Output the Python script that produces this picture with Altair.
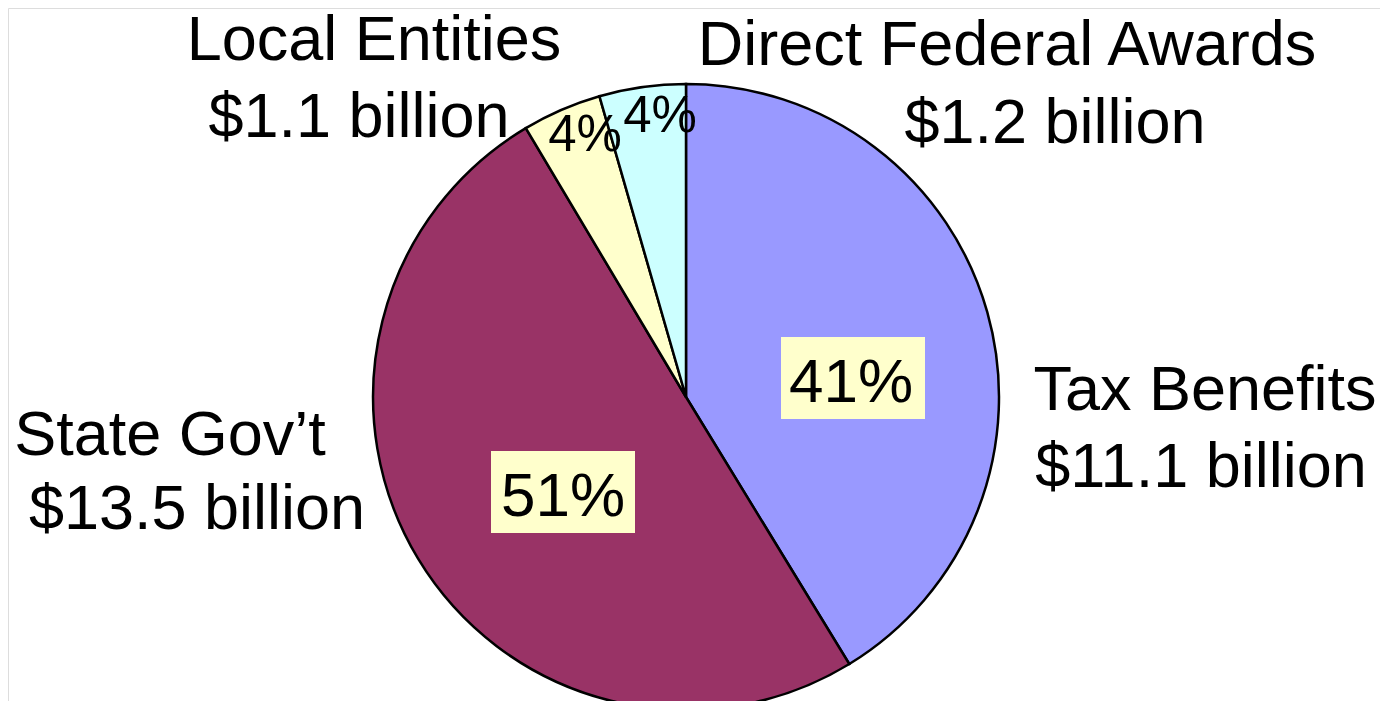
import altair as alt
import pandas as pd

# ---- data ----
categories = ["Tax Benefits", "State Gov\u2019t", "Local Entities", "Direct Federal Awards"]
amounts = [11.1, 13.5, 1.1, 1.2]
amount_labels = ["$11.1 billion", "$13.5 billion", "$1.1 billion", "$1.2 billion"]
pct_labels = ["41%", "51%", "4%", "4%"]
colors = ["#9999FF", "#993366", "#FFFFCC", "#CCFFFF"]

W, H = 1372, 693
CX, CY, R = 678, 389, 313
FONT = "Liberation Sans"

df = pd.DataFrame({"category": categories, "amount": amounts, "idx": list(range(len(categories)))})

pie = alt.Chart(df).mark_arc(stroke="black", strokeWidth=2.5, outerRadius=R).encode(
    theta=alt.Theta("amount:Q", stack=True),
    order=alt.Order("idx:Q"),
    color=alt.Color("category:N", scale=alt.Scale(domain=categories, range=colors), legend=None),
    x=alt.value(CX),
    y=alt.value(CY),
)

# annotation layout (text lines placed like the original)
name_pos = {
    "Tax Benefits": (1197, 402),
    "State Gov\u2019t": (162, 447),
    "Local Entities": (366, 52),
    "Direct Federal Awards": (999, 57),
}
amount_pos = {
    "$11.1 billion": (1193, 479),
    "$13.5 billion": (189, 521),
    "$1.1 billion": (351, 129),
    "$1.2 billion": (1047, 135),
}
pct_pos = [(843, 394), (555, 508), (577, 143), (652, 124)]
pct_size = [62, 62, 51, 51]
boxes = [(773, 917, 329, 411), (483, 627, 443, 525)]

base = alt.Chart(pd.DataFrame({"a": [0]}))
layers = [pie]

for (x1, x2, y1, y2) in boxes:
    layers.append(base.mark_rect(color="#FFFFCC").encode(
        x=alt.value(x1), x2=alt.value(x2), y=alt.value(y1), y2=alt.value(y2)))

for i, t in enumerate(pct_labels):
    px, py = pct_pos[i]
    layers.append(base.mark_text(text=t, font=FONT, fontSize=pct_size[i], color="black",
                                 align="center", baseline="alphabetic").encode(
        x=alt.value(px), y=alt.value(py)))

for c in categories:
    px, py = name_pos[c]
    layers.append(base.mark_text(text=c, font=FONT, fontSize=63, color="black",
                                 align="center", baseline="alphabetic").encode(
        x=alt.value(px), y=alt.value(py)))

for a in amount_labels:
    px, py = amount_pos[a]
    layers.append(base.mark_text(text=a, font=FONT, fontSize=63, color="black",
                                 align="center", baseline="alphabetic").encode(
        x=alt.value(px), y=alt.value(py)))

chart = alt.layer(*layers).properties(
    width=W, height=H, autosize=alt.AutoSizeParams(type="none"), padding=0
).configure_view(strokeWidth=0, stroke="transparent", fill="white").configure(background="transparent")

chart.save("out.html", embed_options={"renderer": "svg", "actions": False})
